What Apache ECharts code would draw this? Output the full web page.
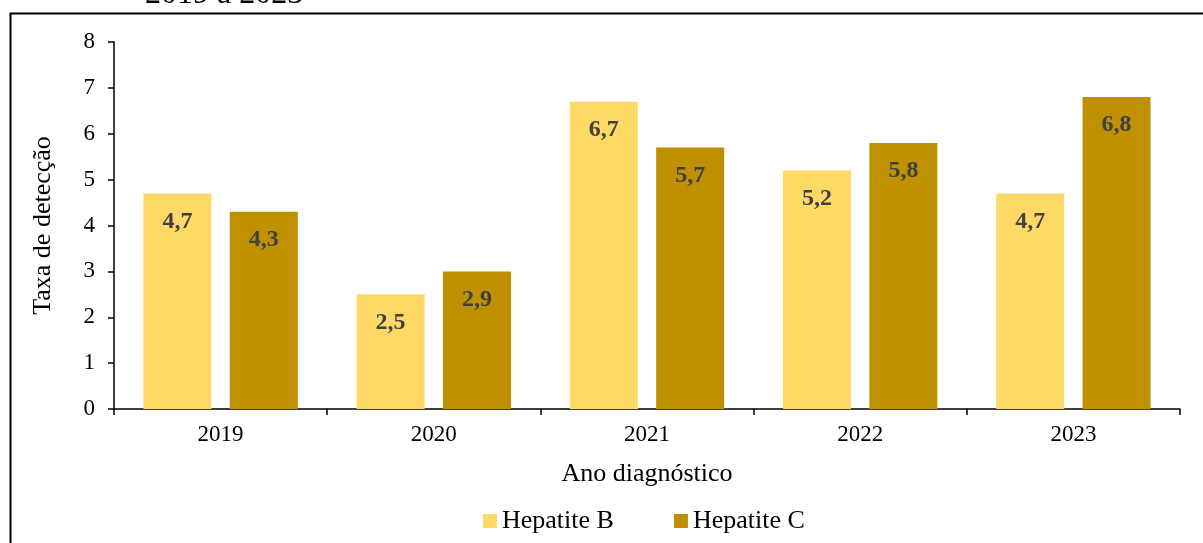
<!DOCTYPE html>
<html>
<head>
<meta charset="utf-8">
<script src="https://cdn.jsdelivr.net/npm/echarts@6/dist/echarts.min.js"></script>
<style>
html,body{margin:0;padding:0;background:#fff;}
#chart{width:1203px;height:543px;}
</style>
</head>
<body>
<div id="chart"></div>
<script>
const categories = ['2019', '2020', '2021', '2022', '2023'];
const hepB = [4.7, 2.5, 6.7, 5.2, 4.7];
const hepC = [4.3, 3.0, 5.7, 5.8, 6.8];
const hepBLabels = ['4,7', '2,5', '6,7', '5,2', '4,7'];
const hepCLabels = ['4,3', '2,9', '5,7', '5,8', '6,8'];
const yTicks = [0, 1, 2, 3, 4, 5, 6, 7, 8];

const FONT = "'Liberation Serif', 'Times New Roman', serif";
const chart = echarts.init(document.getElementById('chart'), null, {renderer: 'canvas'});

function labelCfg(arr) {
  return {
    show: true,
    position: 'insideTop',
    distance: 16,
    fontFamily: FONT,
    fontWeight: 'bold',
    fontSize: 24,
    color: '#404040',
    formatter: p => arr[p.dataIndex]
  };
}

chart.setOption({
  animation: false,
  backgroundColor: '#fff',
  textStyle: {fontFamily: FONT},
  grid: {left: 114, right: 23, top: 42, bottom: 134},
  graphic: [
    {type: 'rect', shape: {x: 10.5, y: 13.5, width: 1400, height: 700},
     style: {fill: 'none', stroke: '#000', lineWidth: 2}, silent: true},
    {type: 'text', x: 145, y: -5,
     style: {text: '2019 a 2023', fontFamily: FONT, fontSize: 32, fill: '#000', textVerticalAlign: 'middle', verticalAlign: 'middle'}}
  ],
  legend: {
    left: 483, top: 508, padding: 0,
    itemWidth: 14, itemHeight: 14, itemGap: 60,
    icon: 'rect',
    textStyle: {fontFamily: FONT, fontSize: 26, color: '#000', padding: [0,0,0,0]},
    data: ['Hepatite B', 'Hepatite C']
  },
  xAxis: {
    type: 'category',
    data: categories,
    name: 'Ano diagnóstico',
    nameLocation: 'middle',
    nameGap: 52,
    nameTextStyle: {fontFamily: FONT, fontSize: 26, color: '#000'},
    axisLine: {lineStyle: {color: '#000', width: 1.5}},
    axisTick: {show: true, length: 6, alignWithLabel: false, lineStyle: {color: '#000', width: 1.5}},
    axisLabel: {fontFamily: FONT, fontSize: 23, color: '#000', margin: 14}
  },
  yAxis: {
    type: 'value',
    min: yTicks[0], max: yTicks[yTicks.length - 1], interval: 1,
    name: 'Taxa de detecção',
    nameLocation: 'middle',
    nameRotate: 90,
    nameGap: 58,
    nameTextStyle: {fontFamily: FONT, fontSize: 26, color: '#000'},
    axisLine: {show: true, lineStyle: {color: '#000', width: 1.5}},
    axisTick: {show: true, length: 6, lineStyle: {color: '#000', width: 1.5}},
    axisLabel: {fontFamily: FONT, fontSize: 23, color: '#000', margin: 19},
    splitLine: {show: false}
  },
  series: [
    {name: 'Hepatite B', type: 'bar', data: hepB, itemStyle: {color: '#FFD966'},
     barWidth: 68, barGap: '27%', label: labelCfg(hepBLabels)},
    {name: 'Hepatite C', type: 'bar', data: hepC, itemStyle: {color: '#BF9000'},
     barWidth: 68, barGap: '27%', label: labelCfg(hepCLabels)}
  ]
});
</script>
</body>
</html>
